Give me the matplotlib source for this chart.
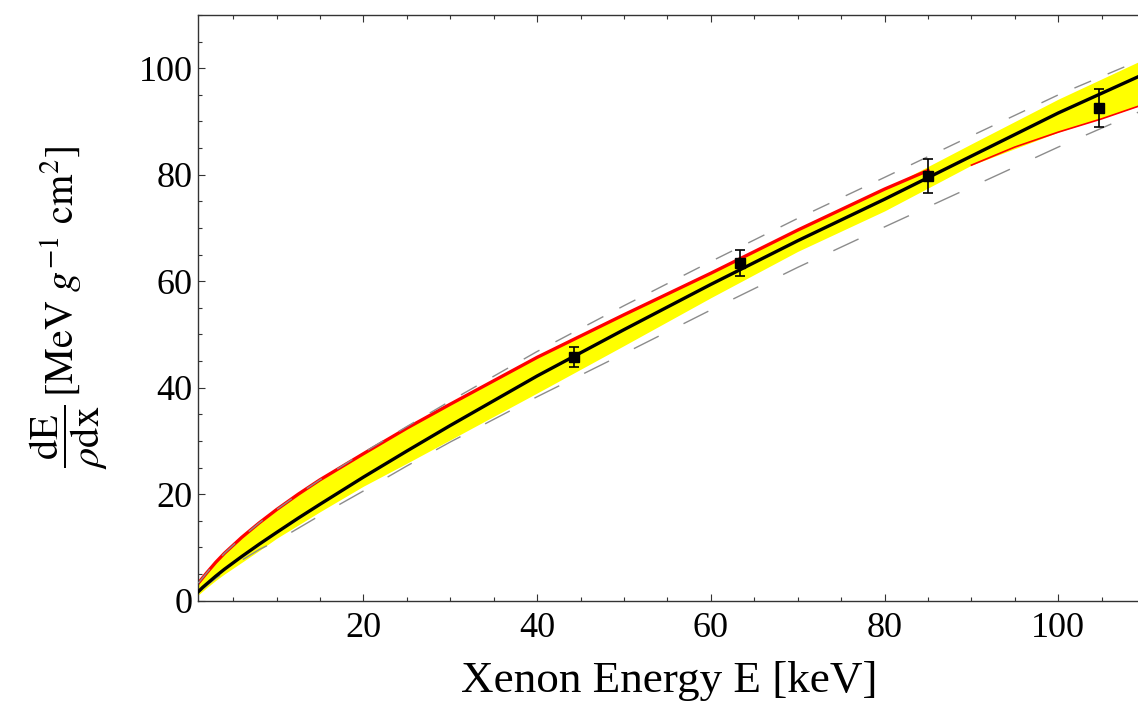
import numpy as np
import matplotlib
matplotlib.use("Agg")
import matplotlib.pyplot as plt
from matplotlib.ticker import MultipleLocator

plt.rcParams['font.family'] = ['Liberation Serif', 'DejaVu Serif']
plt.rcParams['mathtext.fontset'] = 'stix'

# energy grid (keV) for the curves
energy = [1, 1.5, 2, 3, 4, 5, 6, 8, 10, 12.5, 15, 20, 25, 30, 40, 50, 60, 70, 80, 90, 100, 110]
best_fit = [1.7, 2.5, 3.2, 4.6, 5.9, 7.1, 8.3, 10.6, 12.8, 15.5, 18.1, 23.2, 28.1, 32.9, 42.2, 50.9, 59.4, 67.6, 75.4, 83.5, 91.6, 99.0]
band_hi = [3.3, 4.3, 5.3, 7.2, 8.9, 10.4, 11.9, 14.6, 17.1, 20.0, 22.7, 27.6, 32.4, 36.9, 45.7, 53.7, 61.5, 69.6, 77.3, 85.8, 94.2, 101.8]
band_lo = [1.1, 1.8, 2.5, 3.8, 5.0, 6.1, 7.2, 9.4, 11.7, 14.2, 16.7, 21.5, 25.8, 30.2, 39.0, 47.9, 56.9, 65.6, 73.2, 81.8, 88.0, 93.3]
dash_hi = [3.3, 4.3, 5.3, 7.2, 8.9, 10.4, 11.9, 14.6, 17.1, 20.0, 22.7, 27.8, 32.7, 37.5, 46.8, 55.4, 63.7, 71.8, 79.5, 87.3, 95.0, 101.9]
dash_lo = [1.5, 2.2, 2.9, 4.2, 5.4, 6.5, 7.6, 9.6, 11.2, 13.6, 16.0, 20.6, 25.3, 29.8, 38.3, 46.4, 54.6, 62.6, 70.2, 77.7, 85.2, 92.3]

# red curve: visible on the upper edge at low E, lower edge at high E
red_top_E = [1, 1.5, 2, 3, 4, 5, 6, 8, 10, 12.5, 15, 20, 25, 30, 40, 50, 60, 70, 80, 85]
red_top = [3.3, 4.3, 5.3, 7.2, 8.9, 10.4, 11.9, 14.6, 17.1, 20.0, 22.7, 27.6, 32.4, 36.9, 45.7, 53.7, 61.5, 69.6, 77.3, 80.8]
red_bot_E = [90, 95, 100, 105, 110]
red_bot = [81.8, 85.2, 88.0, 90.5, 93.3]

# measurements
pts_E = [44.2, 63.4, 85.0, 104.7]
pts_y = [45.8, 63.4, 79.8, 92.5]
pts_err = [1.85, 2.5, 3.2, 3.6]

fig = plt.figure(figsize=(11.38, 7.07), dpi=100)
ax = fig.add_axes([0.1743, 0.1504, 0.832, 0.8284])

ax.fill_between(energy, band_lo, band_hi, color='#ffff00', lw=0, zorder=1)
ax.plot(red_top_E, red_top, color='red', lw=2.4, zorder=2)
ax.plot(red_bot_E, red_bot, color='red', lw=1.2, zorder=2)
ax.plot(energy, dash_hi, color='#8c8c8c', lw=1.0, ls=(0, (13, 13)), zorder=3)
ax.plot(energy, dash_lo, color='#8c8c8c', lw=1.0, ls=(0, (20, 20)), zorder=3)
ax.plot(energy, best_fit, color='black', lw=2.4, zorder=4)
ax.errorbar(pts_E, pts_y, yerr=pts_err, fmt='s', color='black', ms=6.5,
            capsize=3.5, elinewidth=1.2, capthick=1.2, zorder=5)

ax.set_xlim(1, 110)
ax.set_ylim(0, 110)
ax.xaxis.set_major_locator(MultipleLocator(20))
ax.xaxis.set_minor_locator(MultipleLocator(5))
ax.yaxis.set_major_locator(MultipleLocator(20))
ax.yaxis.set_minor_locator(MultipleLocator(5))
ax.tick_params(which='both', direction='in', top=True, right=True, width=0.8, color='#333333')
ax.tick_params(which='major', length=5, labelsize=26)
ax.tick_params(which='minor', length=3.2)
ax.tick_params(axis='x', pad=8)
ax.tick_params(axis='y', pad=4)
for s in ax.spines.values():
    s.set_linewidth(1.0)
    s.set_color('#333333')

ax.set_xlabel('Xenon Energy E [keV]', fontsize=32.5)
ax.xaxis.set_label_coords(0.497, -0.103)
ax.set_ylabel(r'$\dfrac{\mathrm{dE}}{\rho\mathrm{dx}}\,[\mathrm{MeV}\ g^{-1}\ \mathrm{cm}^{2}]$', fontsize=29)
ax.yaxis.set_label_coords(-0.093, 0.5)

fig.savefig('out.png', dpi=100)
